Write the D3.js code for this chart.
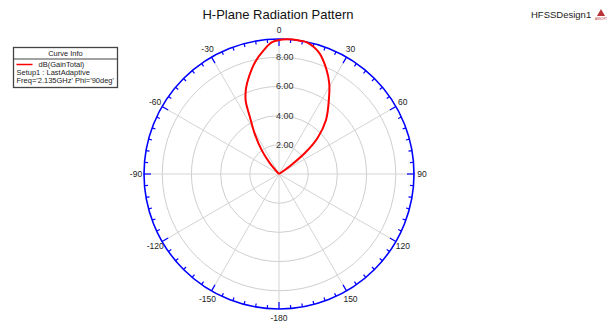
<!DOCTYPE html>
<html>
<head>
<meta charset="utf-8">
<script src="https://cdn.jsdelivr.net/npm/d3@7"></script>
<style>
  body { margin: 0; background: #fff; }
  text { font-family: "Liberation Sans", Arial, sans-serif; }
</style>
</head>
<body>
<svg width="610" height="325"></svg>
<script>
// curve: dB(GainTotal) vs theta (deg), values below 0 sit at the centre
let thetas = [-180, -150, -120, -90, -60, -45, -40, -36, -31, -27, -24.5, -21, -17, -12, -7, -3, 3.5, 9, 12, 18.5, 24.5, 29, 33, 41, 47, 51, 54, 58, 60, 90, 120, 150, 180];
let gains = [0, 0, 0, 0, 0, 0, 0.98, 2.02, 3.25, 4.4, 5.5, 6.3, 7.0, 7.85, 8.55, 9.05, 9.25, 9.25, 9.22, 8.73, 7.85, 7.1, 6.3, 4.91, 3.6, 2.26, 0.91, 0, 0, 0, 0, 0, 0];

let ringValues = [2, 4, 6, 8];
let angleTicks = [0, 30, 60, 90, 120, 150, 180, -150, -120, -90, -60, -30];
let angleLabels = ["0", "30", "60", "90", "120", "150", "-180", "-150", "-120", "-90", "-60", "-30"];

let legendLines = ["Setup1 : LastAdaptive", "Freq='2.135GHz' Phi='90deg'"];

let cx = 279;
let cy = 174;
let outerR = 135;

let svg = d3.select("svg");

let rScale = d3.scaleLinear().domain([0, 9.25]).range([0, outerR]).clamp(true);
let aScale = d3.scaleLinear().domain([-180, 180]).range([-Math.PI, Math.PI]);

let plot = svg.append("g").attr("transform", "translate(" + cx + "," + cy + ")");

// grid rings
plot.selectAll(".ring")
  .data(ringValues)
  .enter()
  .append("circle")
  .attr("r", (d) => rScale(d))
  .attr("fill", "none")
  .attr("stroke", "#cfcfcf")
  .attr("stroke-width", 1);

// spokes
plot.selectAll(".spoke")
  .data(angleTicks)
  .enter()
  .append("line")
  .attr("x1", 0)
  .attr("y1", 0)
  .attr("x2", (d) => outerR * Math.sin(aScale(d)))
  .attr("y2", (d) => -outerR * Math.cos(aScale(d)))
  .attr("stroke", "#d4d4d4")
  .attr("stroke-width", 1);

// outer circle + ticks
plot.append("circle")
  .attr("r", outerR)
  .attr("fill", "none")
  .attr("stroke", "#0000ff")
  .attr("stroke-width", 1.6);

let tickAngles = d3.range(-180, 180, 5);
plot.selectAll(".tick")
  .data(tickAngles)
  .enter()
  .append("line")
  .attr("x1", (d) => outerR * Math.sin(aScale(d)))
  .attr("y1", (d) => -outerR * Math.cos(aScale(d)))
  .attr("x2", (d) => (outerR - (d % 30 === 0 ? 7 : 3.5)) * Math.sin(aScale(d)))
  .attr("y2", (d) => -(outerR - (d % 30 === 0 ? 7 : 3.5)) * Math.cos(aScale(d)))
  .attr("stroke", "#0000ff")
  .attr("stroke-width", 1.2);

// angle labels
plot.selectAll(".alabel")
  .data(angleTicks)
  .enter()
  .append("text")
  .attr("x", (d) => 143 * Math.sin(aScale(d)))
  .attr("y", (d) => -144 * Math.cos(aScale(d)))
  .attr("text-anchor", "middle")
  .attr("dominant-baseline", "central")
  .attr("font-size", 8.5)
  .attr("fill", "#222")
  .text((d, i) => angleLabels[i]);

// ring labels
plot.selectAll(".rlabel")
  .data(ringValues)
  .enter()
  .append("text")
  .attr("x", -3)
  .attr("y", (d) => -rScale(d))
  .attr("dominant-baseline", "central")
  .attr("font-size", 9)
  .attr("fill", "#333")
  .text((d) => d3.format(".2f")(d));

// pattern curve
let line = d3.lineRadial()
  .angle((d, i) => aScale(thetas[i]))
  .radius((d) => rScale(d))
  .curve(d3.curveCatmullRom.alpha(0.5));

plot.append("path")
  .datum(gains)
  .attr("d", line)
  .attr("fill", "none")
  .attr("stroke", "#ff0000")
  .attr("stroke-width", 2)
  .attr("stroke-linejoin", "round");

// title
svg.append("text")
  .attr("x", 278)
  .attr("y", 19)
  .attr("text-anchor", "middle")
  .attr("font-size", 13)
  .attr("fill", "#111")
  .text("H-Plane Radiation Pattern");

svg.append("text")
  .attr("x", 531)
  .attr("y", 18)
  .attr("font-size", 9.5)
  .attr("fill", "#222")
  .text("HFSSDesign1");

// small logo
let logo = svg.append("g").attr("transform", "translate(601,9)");
logo.append("path").attr("d", "M0,0 L4,7 L-4,7 Z").attr("fill", "#b8333a");
logo.append("text")
  .attr("y", 11)
  .attr("text-anchor", "middle")
  .attr("font-size", 3)
  .attr("fill", "#b8333a")
  .text("ANSOFT");

// legend
let legend = svg.append("g").attr("transform", "translate(13.5,47.5)");
legend.append("rect")
  .attr("width", 104)
  .attr("height", 40)
  .attr("fill", "#fff")
  .attr("stroke", "#444")
  .attr("stroke-width", 1.3);
legend.append("line")
  .attr("x1", 0).attr("x2", 104)
  .attr("y1", 11.5).attr("y2", 11.5)
  .attr("stroke", "#444")
  .attr("stroke-width", 1);
legend.append("text")
  .attr("x", 52)
  .attr("y", 8.5)
  .attr("text-anchor", "middle")
  .attr("font-size", 7.5)
  .attr("fill", "#222")
  .text("Curve Info");
legend.append("line")
  .attr("x1", 3).attr("x2", 19)
  .attr("y1", 17).attr("y2", 17)
  .attr("stroke", "#ff0000")
  .attr("stroke-width", 1.5);
legend.append("text")
  .attr("x", 25)
  .attr("y", 19.5)
  .attr("font-size", 7.5)
  .attr("fill", "#222")
  .text("dB(GainTotal)");
legend.selectAll(".ll")
  .data(legendLines)
  .enter()
  .append("text")
  .attr("x", 3)
  .attr("y", (d, i) => 27.5 + i * 8)
  .attr("font-size", 7.5)
  .attr("fill", "#222")
  .text((d) => d);
</script>
</body>
</html>
